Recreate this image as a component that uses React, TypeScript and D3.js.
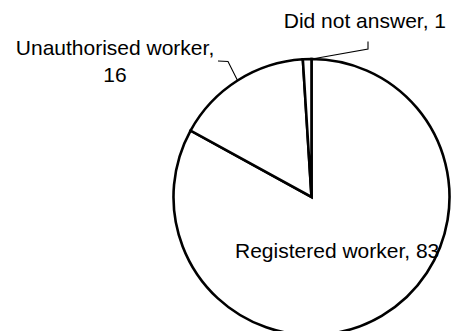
import React from "react";
import * as d3 from "d3";

const categories = ["Registered worker", "Unauthorised worker", "Did not answer"];
const values = [83, 16, 1];

const W = 451;
const H = 331;
const cx = 311.5;
const cy = 197;
const R = 138;
const FONT = "'Liberation Sans', Arial, sans-serif";
const FS = 21;

export default function App() {
  const pie = d3
    .pie<number>()
    .sort(null)
    .value((d) => d)
    .startAngle(0)
    .endAngle(2 * Math.PI);
  const arcs = pie(values);
  const arc = d3.arc<d3.PieArcDatum<number>>().innerRadius(0).outerRadius(R);

  const onCircle = (a: number, r: number) => [cx + r * Math.sin(a), cy - r * Math.cos(a)];
  const mid = (d: d3.PieArcDatum<number>) => (d.startAngle + d.endAngle) / 2;

  const uA = onCircle(mid(arcs[1]), R);
  const nA = onCircle(mid(arcs[2]) + 0.035, R);

  return (
    <div style={{ position: "fixed", left: 0, top: 0 }}>
      <svg width={W} height={H} style={{ display: "block", background: "#fff" }}>
        <g transform={`translate(${cx},${cy})`}>
          {arcs.map((d, i) => (
            <path
              key={categories[i]}
              d={arc(d) || ""}
              fill="#fff"
              stroke="#000"
              strokeWidth={2.6}
              strokeLinejoin="miter"
            />
          ))}
        </g>
        <polyline
          points={`218,61 228,61.5 ${uA[0]},${uA[1]}`}
          fill="none"
          stroke="#000"
          strokeWidth={1.1}
        />
        <polyline
          points={`368,41.5 368,49 ${nA[0]},${nA[1]}`}
          fill="none"
          stroke="#000"
          strokeWidth={1.1}
        />
        <g fontFamily={FONT} fontSize={FS} fill="#000">
          <text x={115} y={55} textAnchor="middle">
            {`${categories[1]},`}
          </text>
          <text x={115} y={81.5} textAnchor="middle">
            {values[1]}
          </text>
          <text x={446} y={28.3} textAnchor="end">
            {`${categories[2]}, ${values[2]}`}
          </text>
          <text x={235} y={258.3} textAnchor="start">
            {`${categories[0]}, ${values[0]}`}
          </text>
        </g>
      </svg>
    </div>
  );
}
